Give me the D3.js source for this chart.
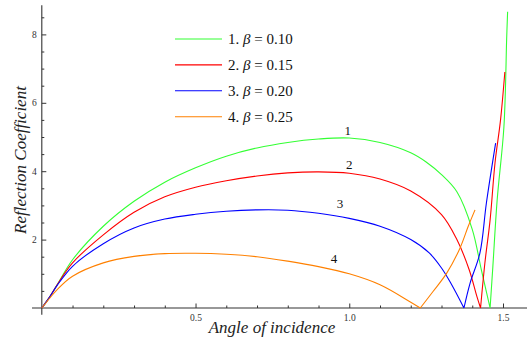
<!DOCTYPE html>
<html>
<head>
<meta charset="utf-8">
<script src="https://cdn.jsdelivr.net/npm/d3@7"></script>
<style>
  html, body { margin: 0; padding: 0; background: #fff; }
  svg text { font-family: "Liberation Serif", "DejaVu Serif", serif; }
</style>
</head>
<body>
<div id="chart"></div>
<script>
// reflection coefficient vs angle of incidence, four beta values

const betas = ['0.10', '0.15', '0.20', '0.25'];
const colors = ['#33ff33', '#ff0000', '#0000ff', '#ff8000'];

const angle1 = [0, 0.027, 0.05, 0.1, 0.2, 0.3, 0.4, 0.5, 0.6, 0.7, 0.8, 0.9, 1.0, 1.1, 1.2, 1.25, 1.3, 1.35, 1.4, 1.43, 1.458, 1.467, 1.481, 1.503, 1.512, 1.515];
const refl1  = [0, 0.34, 0.68, 1.41, 2.39, 3.12, 3.68, 4.10, 4.44, 4.68, 4.84, 4.94, 4.97, 4.84, 4.54, 4.27, 3.90, 3.40, 2.30, 1.10, 0, 1.21, 3.16, 5.3, 7.9, 8.66];

const angle2 = [0, 0.027, 0.05, 0.1, 0.2, 0.3, 0.4, 0.5, 0.6, 0.7, 0.8, 0.9, 1.0, 1.1, 1.2, 1.3, 1.35, 1.39, 1.415, 1.427, 1.441, 1.458, 1.474, 1.492, 1.506];
const refl2  = [0, 0.34, 0.68, 1.32, 2.14, 2.80, 3.25, 3.53, 3.72, 3.86, 3.95, 3.98, 3.94, 3.77, 3.42, 2.73, 2.0, 1.12, 0.34, 0, 1.31, 2.57, 4.24, 5.5, 6.9];

const angle3 = [0, 0.027, 0.05, 0.1, 0.2, 0.3, 0.4, 0.5, 0.6, 0.7, 0.8, 0.9, 1.0, 1.1, 1.2, 1.26, 1.3, 1.33, 1.373, 1.393, 1.425, 1.446, 1.476];
const refl3  = [0, 0.34, 0.66, 1.22, 1.88, 2.34, 2.60, 2.74, 2.83, 2.87, 2.86, 2.77, 2.62, 2.39, 2.0, 1.61, 1.17, 0.73, 0, 0.73, 1.61, 3.07, 4.82];

const angle4 = [0, 0.027, 0.05, 0.1, 0.2, 0.3, 0.4, 0.5, 0.6, 0.7, 0.8, 0.9, 1.0, 1.1, 1.2, 1.231, 1.273, 1.317, 1.36, 1.387, 1.409];
const refl4  = [0, 0.30, 0.54, 0.93, 1.32, 1.51, 1.59, 1.60, 1.57, 1.50, 1.37, 1.21, 1.0, 0.68, 0.17, 0, 0.49, 1.02, 1.75, 2.39, 2.87];

// where the curve numbers sit (data coords)
const tagAngle = [0.995, 1.0, 0.97, 0.95];
const tagValue = [5.05, 4.05, 2.92, 1.32];

const xMajor = [0.5, 1.0, 1.5];
const yMajor = [2, 4, 6, 8];

const W = 527, H = 343;
const x = d3.scaleLinear().domain([0, 1.5]).range([41.8, 503]);
const y = d3.scaleLinear().domain([0, 8]).range([308, 34.4]);

const svg = d3.select('#chart').append('svg')
  .attr('width', W).attr('height', H);

const series = [
  { xs: angle1, ys: refl1 },
  { xs: angle2, ys: refl2 },
  { xs: angle3, ys: refl3 },
  { xs: angle4, ys: refl4 }
].map((s, i) => ({ pts: s.xs.map((a, j) => [a, s.ys[j]]), color: colors[i], beta: betas[i] }));

// x axis
const axisColor = '#333';
svg.append('line')
  .attr('x1', x(-0.032)).attr('x2', W)
  .attr('y1', y(0)).attr('y2', y(0))
  .attr('stroke', axisColor).attr('stroke-width', 1.1);

const xMinor = d3.range(1, 16).map(d => d / 10).filter(d => !xMajor.some(m => Math.abs(m - d) < 1e-6));
svg.append('g')
  .attr('transform', `translate(0,${y(0)})`)
  .call(d3.axisBottom(x).tickValues(xMinor).tickSize(-2.5).tickFormat(''))
  .call(g => g.select('.domain').remove())
  .call(g => g.selectAll('line').attr('stroke', axisColor));

svg.append('g')
  .attr('transform', `translate(0,${y(0)})`)
  .call(d3.axisBottom(x).tickValues(xMajor).tickSize(-4.5).tickPadding(6).tickFormat(d3.format('.1f')))
  .call(g => g.select('.domain').remove())
  .call(g => g.selectAll('line').attr('stroke', axisColor))
  .call(g => g.selectAll('text')
    .attr('font-family', '"Liberation Serif", serif').attr('font-size', 9.5).attr('fill', axisColor));

// y axis
svg.append('line')
  .attr('x1', x(0)).attr('x2', x(0))
  .attr('y1', y(8.85)).attr('y2', y(-0.2))
  .attr('stroke', axisColor).attr('stroke-width', 1.1);

const yMinor = d3.range(1, 18).map(d => d / 2).filter(d => !yMajor.includes(d));
svg.append('g')
  .attr('transform', `translate(${x(0)},0)`)
  .call(d3.axisLeft(y).tickValues(yMinor).tickSize(-2.5).tickFormat(''))
  .call(g => g.select('.domain').remove())
  .call(g => g.selectAll('line').attr('stroke', axisColor));

svg.append('g')
  .attr('transform', `translate(${x(0)},0)`)
  .call(d3.axisLeft(y).tickValues(yMajor).tickSize(-4.5).tickPadding(5).tickFormat(d3.format('d')))
  .call(g => g.select('.domain').remove())
  .call(g => g.selectAll('line').attr('stroke', axisColor))
  .call(g => g.selectAll('text')
    .attr('font-family', '"Liberation Serif", serif').attr('font-size', 9.5).attr('fill', axisColor));

// axis titles
svg.append('text')
  .attr('x', 272).attr('y', 333)
  .attr('text-anchor', 'middle')
  .attr('font-style', 'italic').attr('font-size', 17)
  .attr('fill', '#222')
  .text('Angle of incidence');

svg.append('text')
  .attr('transform', 'translate(26,160) rotate(-90)')
  .attr('text-anchor', 'middle')
  .attr('font-style', 'italic').attr('font-size', 17)
  .attr('fill', '#222')
  .text('Reflection Coefficient');

// curves: smooth on each side of the zero dip, sharp corner at the dip
const smooth = d3.line().x(d => x(d[0])).y(d => y(d[1])).curve(d3.curveCatmullRom.alpha(0.5));
function curvePath(pts) {
  const k = pts.findIndex((p, j) => j > 0 && p[1] === 0);
  if (k < 0) return smooth(pts);
  return smooth(pts.slice(0, k + 1)) + smooth(pts.slice(k));
}

svg.append('g').selectAll('path')
  .data(series)
  .join('path')
  .attr('d', d => curvePath(d.pts))
  .attr('fill', 'none')
  .attr('stroke', d => d.color)
  .attr('stroke-width', 1.1)
  .attr('stroke-linejoin', 'round');

// curve numbers
svg.append('g').selectAll('text')
  .data(series)
  .join('text')
  .attr('x', (d, i) => x(tagAngle[i]))
  .attr('y', (d, i) => y(tagValue[i]))
  .attr('text-anchor', 'middle')
  .attr('font-size', 13)
  .attr('fill', '#111')
  .text((d, i) => i + 1);

// legend
const legend = svg.append('g').attr('transform', 'translate(175,39)');
const rows = legend.selectAll('g')
  .data(series)
  .join('g')
  .attr('transform', (d, i) => `translate(0,${i * 25.9})`);

rows.append('line')
  .attr('x1', 0).attr('x2', 47)
  .attr('stroke', d => d.color).attr('stroke-width', 1.1);

const lab = rows.append('text')
  .attr('x', 53).attr('y', 5)
  .attr('font-size', 15)
  .attr('fill', '#111');
lab.append('tspan').text((d, i) => `${i + 1}. `);
lab.append('tspan').attr('font-style', 'italic').text('β');
lab.append('tspan').text(d => ` = ${d.beta}`);
</script>
</body>
</html>
